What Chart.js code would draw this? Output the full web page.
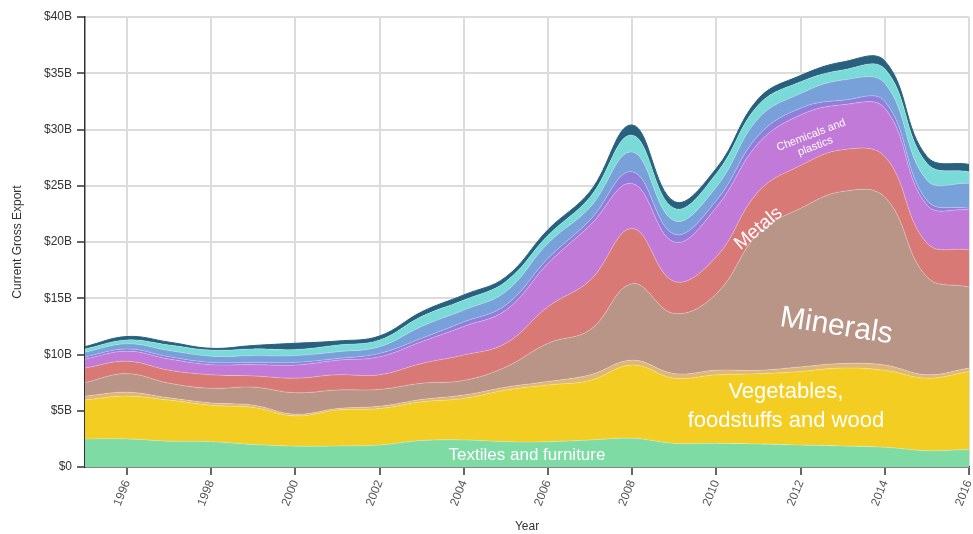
<!DOCTYPE html>
<html>
  <head>
    <title>Current Gross Export</title>
    <script src="https://cdn.jsdelivr.net/npm/chart.js"></script>
    <style>
      html, body { margin: 0; padding: 0; background: #fff; }
      #wrap { width: 973px; height: 534px; position: relative; }
    </style>
  </head>
  <body>
    <div id="wrap"><canvas id="myChart"></canvas></div>

    <script>
      // values in billions of USD
      const years = [1995, 1996, 1997, 1998, 1999, 2000, 2001, 2002, 2003, 2004, 2005,
                     2006, 2007, 2008, 2009, 2010, 2011, 2012, 2013, 2014, 2015, 2016];
      const xTicks = [1996, 1998, 2000, 2002, 2004, 2006, 2008, 2010, 2012, 2014, 2016];
      const yTicks = [0, 5, 10, 15, 20, 25, 30, 35, 40];

      const textiles   = [2.5, 2.5, 2.3, 2.25, 2.0, 1.85, 1.87, 1.95, 2.35, 2.4, 2.25, 2.25, 2.4, 2.55, 2.1, 2.1, 2.05, 1.95, 1.87, 1.75, 1.45, 1.55];
      const vegetables = [3.46, 3.8, 3.65, 3.25, 3.3, 2.7, 3.2, 3.25, 3.45, 3.7, 4.6, 5.05, 5.3, 6.52, 5.8, 6.1, 6.25, 6.55, 6.93, 6.85, 6.45, 6.95];
      const animal     = [0.34, 0.35, 0.2, 0.2, 0.2, 0.15, 0.13, 0.2, 0.2, 0.3, 0.25, 0.3, 0.5, 0.43, 0.4, 0.4, 0.3, 0.4, 0.4, 0.47, 0.3, 0.3];
      const minerals   = [1.2, 1.65, 1.3, 1.3, 1.6, 1.9, 1.65, 1.5, 1.45, 1.3, 1.8, 3.4, 4.0, 6.8, 5.35, 6.8, 12.2, 14.1, 15.3, 14.93, 8.7, 7.2];
      const metals     = [1.3, 1.1, 1.15, 1.2, 1.0, 1.3, 1.35, 1.3, 1.75, 2.25, 2.1, 3.25, 4.4, 4.9, 2.85, 3.3, 3.7, 3.8, 3.7, 3.6, 3.0, 3.3];
      const chemicals  = [0.8, 0.9, 1.0, 0.9, 1.0, 1.17, 1.3, 1.6, 1.95, 2.55, 2.95, 3.85, 4.9, 4.0, 3.5, 4.4, 4.3, 4.5, 4.0, 4.3, 3.4, 3.55];
      const stone      = [0.2, 0.2, 0.2, 0.2, 0.2, 0.23, 0.15, 0.3, 0.3, 0.4, 0.45, 0.45, 0.45, 1.05, 0.7, 0.6, 0.7, 0.6, 0.4, 0.6, 0.4, 0.15];
      const machinery  = [0.4, 0.45, 0.55, 0.55, 0.6, 0.6, 0.6, 0.6, 1.05, 1.05, 1.2, 1.35, 1.15, 1.75, 1.2, 1.2, 1.5, 1.3, 1.8, 1.6, 1.8, 2.2];
      const transport  = [0.3, 0.35, 0.5, 0.55, 0.6, 0.55, 0.6, 0.6, 0.9, 0.9, 0.9, 0.7, 0.9, 1.5, 1.1, 1.2, 1.2, 1.05, 0.9, 1.3, 1.5, 1.05];
      const other      = [0.2, 0.3, 0.25, 0.15, 0.3, 0.55, 0.35, 0.35, 0.4, 0.45, 0.4, 0.5, 0.5, 0.9, 0.6, 0.45, 0.55, 0.55, 0.7, 0.7, 0.6, 0.65];

      const series = [
        { label: "Textiles and furniture", data: textiles, color: "#7edba3" },
        { label: "Vegetables, foodstuffs and wood", data: vegetables, color: "#f4cd22" },
        { label: "Animal products", data: animal, color: "#ddb679" },
        { label: "Minerals", data: minerals, color: "#b99588" },
        { label: "Metals", data: metals, color: "#d97975" },
        { label: "Chemicals and plastics", data: chemicals, color: "#c27ad9" },
        { label: "Stone and glass", data: stone, color: "#8f7edb" },
        { label: "Machinery", data: machinery, color: "#79a1d9" },
        { label: "Transportation", data: transport, color: "#7adad8" },
        { label: "Other", data: other, color: "#28607e" },
      ];

      // text drawn inside the areas, anchored in data units
      const areaLabels = [
        { lines: ["Textiles and furniture"], year: 2005.5, value: 1.07, size: 17, angle: 0 },
        { lines: ["Vegetables,", "foodstuffs and wood"], year: 2011.65, value: 5.4, size: 22, angle: 0, lineGap: 29 },
        { lines: ["Minerals"], year: 2012.85, value: 12.5, size: 30, angle: 9 },
        { lines: ["Metals"], year: 2011.0, value: 21.2, size: 19, angle: -40 },
        { lines: ["Chemicals and", "plastics"], year: 2012.3, value: 29.0, size: 11, angle: -21, lineGap: 12 },
      ];

      const fontFamily = "'Liberation Sans', Arial, Helvetica, sans-serif";

      const labelPlugin = {
        id: "areaLabels",
        afterDatasetsDraw(chart) {
          const ctx = chart.ctx;
          const xs = chart.scales.x;
          const ys = chart.scales.y;
          areaLabels.forEach((l) => {
            const px = xs.getPixelForValue(l.year);
            const py = ys.getPixelForValue(l.value);
            ctx.save();
            ctx.translate(px, py);
            ctx.rotate((l.angle * Math.PI) / 180);
            ctx.fillStyle = "#ffffff";
            ctx.font = l.size + "px " + fontFamily;
            ctx.textAlign = "center";
            ctx.textBaseline = "middle";
            const gap = l.lineGap || 0;
            const start = -((l.lines.length - 1) * gap) / 2;
            l.lines.forEach((t, i) => ctx.fillText(t, 0, start + i * gap));
            ctx.restore();
          });
        },
      };

      const datasets = series.map((s, i) => ({
        label: s.label,
        data: years.map((y, j) => ({ x: y, y: s.data[j] })),
        backgroundColor: s.color,
        borderColor: i === series.length - 1 ? s.color : "rgba(255,255,255,0.35)",
        borderWidth: i === series.length - 1 ? 1 : 0.7,
        fill: i === 0 ? "origin" : "-1",
        pointRadius: 0,
        pointHoverRadius: 0,
        tension: 0.4,
      }));

      const ctx = document.getElementById("myChart").getContext("2d");
      const myChart = new Chart(ctx, {
        type: "line",
        data: { datasets: datasets },
        plugins: [labelPlugin],
        options: {
          responsive: true,
          maintainAspectRatio: false,
          animation: false,
          layout: { padding: { top: 17, right: 4, left: 0, bottom: 0 } },
          plugins: {
            legend: { display: false },
            tooltip: { enabled: false },
          },
          scales: {
            x: {
              type: "linear",
              min: 1995,
              max: 2016,
              afterBuildTicks: (scale) => {
                scale.ticks = xTicks.map((v) => ({ value: v }));
              },
              afterFit: (scale) => {
                scale.height = 67;
                scale.paddingRight = 0;
                scale.paddingLeft = 0;
              },
              grid: {
                color: "#dcdcdc",
                lineWidth: 2,
                tickColor: "#333",
                tickLength: 8,
                tickWidth: 1.5,
              },
              border: { color: "#333", width: 1.5 },
              ticks: {
                minRotation: 68,
                maxRotation: 68,
                padding: 3,
                color: "#555",
                font: { family: fontFamily, size: 12 },
                callback: (v) => String(v),
              },
              title: {
                display: true,
                text: "Year",
                color: "#333",
                font: { family: fontFamily, size: 12 },
                padding: { top: 0, bottom: 0 },
              },
            },
            y: {
              stacked: true,
              min: 0,
              max: 40,
              afterBuildTicks: (scale) => {
                scale.ticks = yTicks.map((v) => ({ value: v }));
              },
              afterFit: (scale) => {
                scale.width = 85;
              },
              grid: {
                color: "#dcdcdc",
                lineWidth: 2,
                tickColor: "#333",
                tickLength: 8,
                tickWidth: 1.5,
              },
              border: { color: "#333", width: 1.5 },
              ticks: {
                padding: 5,
                color: "#333",
                font: { family: fontFamily, size: 12 },
                callback: (v) => (v === 0 ? "$0" : "$" + v + "B"),
              },
              title: {
                display: true,
                text: "Current Gross Export",
                color: "#333",
                font: { family: fontFamily, size: 12 },
                padding: { top: 10, bottom: 12 },
              },
            },
          },
        },
      });
    </script>
  </body>
</html>
